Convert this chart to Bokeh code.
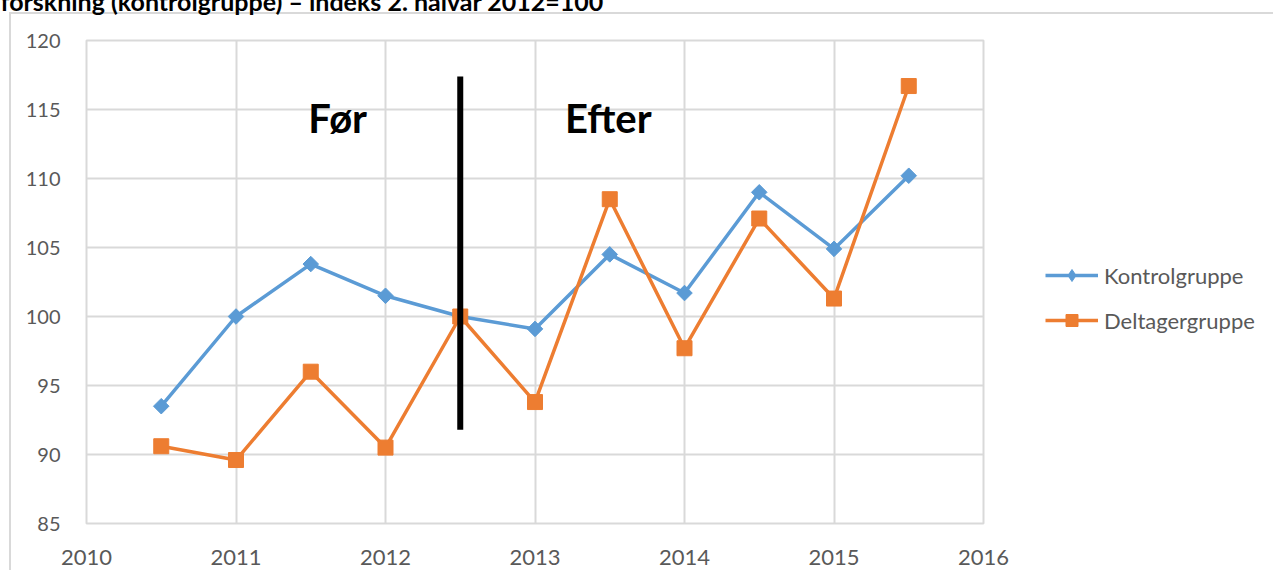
from bokeh.plotting import figure
from bokeh.models import Legend, LegendItem, FixedTicker, Range1d
from bokeh.core.properties import value
from bokeh.embed import file_html
from bokeh.resources import INLINE
import math

# ---- data ----
periods = [2010.5, 2011.0, 2011.5, 2012.0, 2012.5, 2013.0, 2013.5, 2014.0, 2014.5, 2015.0, 2015.5]
kontrol = [93.5, 100.0, 103.8, 101.5, 100.0, 99.1, 104.5, 101.7, 109.0, 104.9, 110.2]
deltager = [90.6, 89.6, 96.0, 90.5, 100.0, 93.8, 108.5, 97.7, 107.1, 101.3, 116.7]
series_names = ["Kontrolgruppe", "Deltagergruppe"]
x_ticks = [2010, 2011, 2012, 2013, 2014, 2015, 2016]
y_ticks = [85, 90, 95, 100, 105, 110, 115, 120]
split_x = 2012.5
split_y0, split_y1 = 91.8, 117.4
phase_labels = ["Før", "Efter"]
phase_x = [2011.68, 2013.49]
phase_y = 114.4
title_text = "forskning (kontrolgruppe) – indeks 2. halvår 2012=100"

BLUE = "#5B9BD5"
ORANGE = "#ED7D31"
GRID = "#d9d9d9"
TXT = "#595959"
FONT = "Lato"
SHIFT = 42  # part of the canvas pushed above the window (cropped title)

p = figure(
    frame_width=897, frame_height=483,
    min_border_left=86, min_border_top=0, min_border_right=282, min_border_bottom=47,
    x_range=Range1d(2010, 2016), y_range=Range1d(85, 120),
    output_backend="svg", toolbar_location=None,
)
p.margin = (-SHIFT, 0, 0, 0)
p.background_fill_color = "white"
p.border_fill_color = None
p.outline_line_color = GRID
p.outline_line_width = 2
p.styles = {
    "background-color": "white",
    "background-image": f"linear-gradient({GRID},{GRID}), linear-gradient({GRID},{GRID})",
    "background-size": "2px 100%, 100% 2px",
    "background-position": f"9px {12 + SHIFT}px, 9px {12 + SHIFT}px",
    "background-repeat": "no-repeat",
}

p.title.text = title_text
p.title.text_font = FONT
p.title.text_font_style = "bold"
p.title.text_font_size = "25px"
p.title.text_color = "black"
p.title.align = "left"
p.title.offset = -86
p.title.standoff = 50

for ax, ticks in ((p.xaxis, x_ticks), (p.yaxis, y_ticks)):
    ax.ticker = FixedTicker(ticks=ticks)
    ax.axis_line_color = None
    ax.major_tick_line_color = None
    ax.minor_tick_line_color = None
    ax.major_label_text_font = FONT
    ax.major_label_text_color = TXT
    ax.major_label_text_font_size = "20px"
p.xaxis.major_label_standoff = 20
p.xaxis.major_label_text_font_size = "22px"
p.yaxis.major_label_standoff = 20

p.xgrid.grid_line_color = GRID
p.ygrid.grid_line_color = GRID
p.xgrid.grid_line_width = 2
p.ygrid.grid_line_width = 2

# series
kl = p.line(periods, kontrol, line_color=BLUE, line_width=3.5)
km = p.scatter(periods, kontrol, marker="square", angle=math.pi / 4, size=11,
               fill_color=BLUE, line_color=BLUE)
dl = p.line(periods, deltager, line_color=ORANGE, line_width=3.5)
dm = p.scatter(periods, deltager, marker="square", size=15,
               fill_color=ORANGE, line_color=ORANGE)
# legend-only diamond swatch (no visible points)
kd = p.scatter([float("nan")], [float("nan")], marker="diamond", size=17,
               fill_color=BLUE, line_color=BLUE)

# split line
p.segment(x0=[split_x], y0=[split_y0], x1=[split_x], y1=[split_y1],
          line_color="black", line_width=6)

p.text(x=phase_x, y=[phase_y, phase_y], text=phase_labels,
       text_font=value(FONT), text_font_style="bold", text_font_size="40px",
       text_align="center", text_baseline="middle", text_color="black")

legend = Legend(items=[LegendItem(label=series_names[0], renderers=[kl, kd]),
                       LegendItem(label=series_names[1], renderers=[dl, dm])],
                location=(62, 188))
legend.margin = 0
legend.padding = 0
legend.spacing = 15
legend.border_line_color = None
legend.background_fill_color = None
legend.glyph_width = 53
legend.glyph_height = 30
legend.label_height = 30
legend.label_standoff = 6
legend.label_text_font = FONT
legend.label_text_font_size = "22px"
legend.label_text_color = TXT
p.add_layout(legend, "right")

open("out.html", "w").write(file_html(p, INLINE))
